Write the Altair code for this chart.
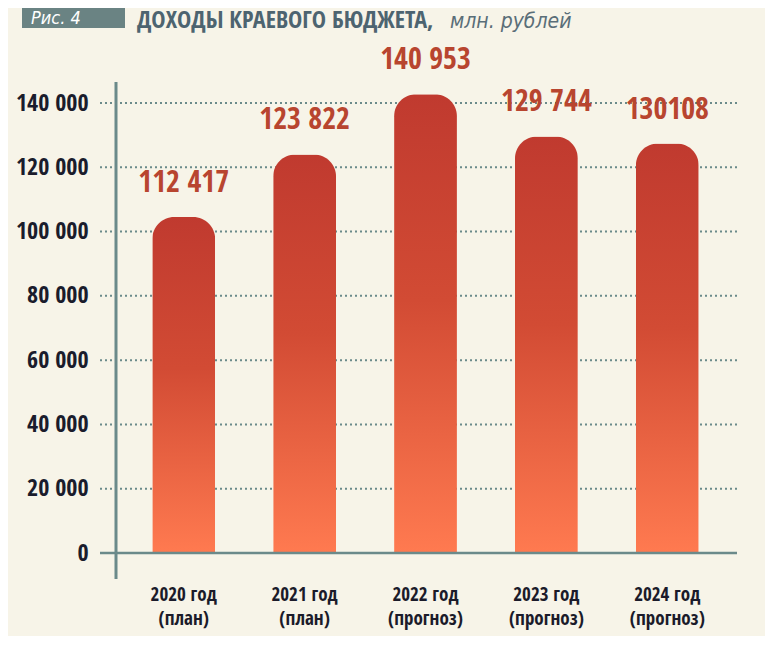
import altair as alt
import pandas as pd

# ---- data ----
years = ["2020 год\n(план)", "2021 год\n(план)", "2022 год\n(прогноз)", "2023 год\n(прогноз)", "2024 год\n(прогноз)"]
bar_heights = [104500, 124000, 142700, 129600, 127400]
value_labels = ["112 417", "123 822", "140 953", "129 744", "130108"]
y_ticks = [0, 20000, 40000, 60000, 80000, 100000, 120000, 140000]

title_tag = "Рис. 4"
title_main = "ДОХОДЫ КРАЕВОГО БЮДЖЕТА,"
title_unit = "млн. рублей"

df = pd.DataFrame({"year": years, "h": bar_heights, "lab": value_labels})
grid_df = pd.DataFrame({"v": [t for t in y_ticks if t > 0]})
one = pd.DataFrame({"k": [0]})

W, H = 619, 450
COND = "Open Sans Condensed, DejaVu Sans Condensed, sans-serif"
REG = "DejaVu Sans Condensed, sans-serif"
AX = "#6b8a8a"

x_enc = alt.X("year:N", sort=years,
              scale=alt.Scale(paddingInner=0.48, paddingOuter=0.30),
              axis=None)
y_scale = alt.Scale(domain=[0, 140000], nice=False)

grid = alt.Chart(grid_df).mark_rule(stroke=AX, strokeWidth=2, strokeDash=[2, 3]).encode(
    y=alt.Y("v:Q", scale=y_scale,
            axis=alt.Axis(values=y_ticks, domain=False, ticks=False, grid=False, title=None,
                          labelExpr="replace(format(datum.value, ','), ',', ' ')",
                          labelFont=COND, labelFontSize=24, labelFontWeight="bold",
                          labelColor="#1a1c2c", labelPadding=28)),
    x=alt.value(-16), x2=alt.value(W + 2),
)

bars = alt.Chart(df).mark_bar(
    cornerRadiusTopLeft=22, cornerRadiusTopRight=22,
    color=alt.Gradient(gradient="linear", x1=0, x2=0, y1=0, y2=1,
                       stops=[alt.GradientStop(offset=0, color="#c03a2f"),
                              alt.GradientStop(offset=0.45, color="#d24b34"),
                              alt.GradientStop(offset=1, color="#ff7a50")]),
).encode(x=x_enc, y=alt.Y("h:Q", scale=y_scale))

labels = alt.Chart(df).mark_text(font=COND, fontSize=30, color="#b8452f", dy=-34,
                                 baseline="middle").encode(
    x=x_enc, y=alt.Y("h:Q", scale=y_scale), text="lab:N")

xlabels = alt.Chart(df).mark_text(font=COND, fontSize=19, fontWeight="bold", color="#1b1b2a",
                                  lineBreak="\n", lineHeight=24, baseline="top").encode(
    x=x_enc, y=alt.value(H + 33), text="year:N")

baseline = alt.Chart(one).mark_rule(stroke=AX, strokeWidth=2.5).encode(
    x=alt.value(-16), x2=alt.value(W + 2), y=alt.value(H))
vaxis = alt.Chart(one).mark_rule(stroke=AX, strokeWidth=3).encode(
    x=alt.value(0), y=alt.value(-21), y2=alt.value(H + 26))

tag_box = alt.Chart(one).mark_rect(color="#6a8383").encode(
    x=alt.value(-94), x2=alt.value(9), y=alt.value(-95), y2=alt.value(-75))
tag_text = alt.Chart(one).mark_text(font=REG, fontSize=18, fontStyle="italic",
                                    color="#ffffff", align="left", baseline="alphabetic").encode(
    x=alt.value(-85), y=alt.value(-79), text=alt.value(title_tag))
main_text = alt.Chart(one).mark_text(font=COND, fontSize=24, fontWeight="bold", color="#4d6470",
                                     align="left", baseline="alphabetic").encode(
    x=alt.value(21), y=alt.value(-75), text=alt.value(title_main))
unit_text = alt.Chart(one).mark_text(font=REG, fontSize=21, fontStyle="italic",
                                     color="#5a6e78", align="left", baseline="alphabetic").encode(
    x=alt.value(334), y=alt.value(-75), text=alt.value(title_unit))

chart = alt.layer(grid, bars, baseline, vaxis, labels, xlabels,
                  tag_box, tag_text, main_text, unit_text).properties(
    width=W, height=H,
    autosize=alt.AutoSizeParams(type="none"),
    padding={"left": 108, "top": 95, "right": 30, "bottom": 83},
    background="#f7f4e8",
).configure_view(stroke=None)

chart.save("out.html", embed_options={"renderer": "svg", "actions": False})
